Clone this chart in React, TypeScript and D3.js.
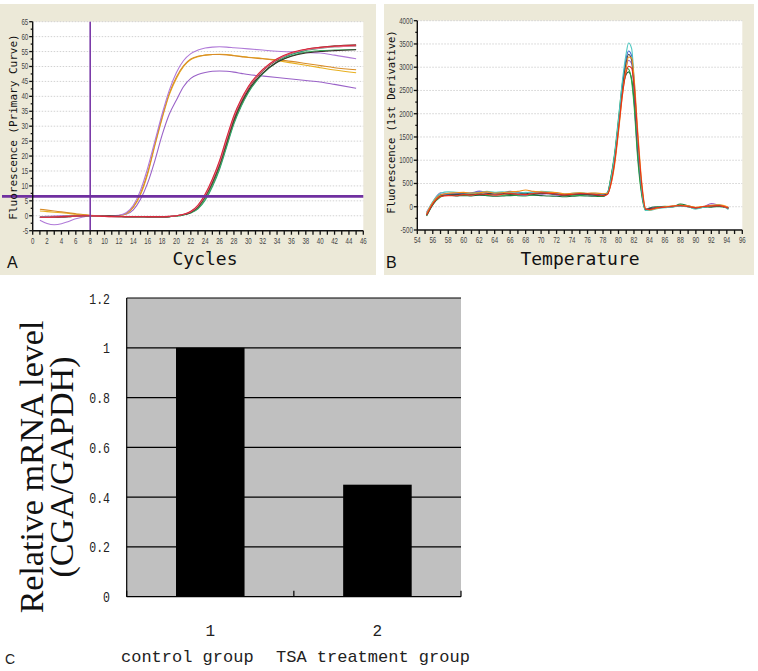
import React from "react";
import * as d3 from "d3";

// ---------- Panel A: amplification curves ----------
const cycles = [1,2,3,4,5,6,7,8,10,12,13,14,15,16,17,18,19,20,21,22,23,24,25,26,27,28,29,30,32,34,36,38,40,42,45];
const ampPurpleHigh = [-1.5,-2.6,-3.0,-2.7,-1.9,-1.0,-0.4,0,0,0.2,1.0,3.5,8.5,16,25,34,42,48,52,54.3,55.5,56.2,56.5,56.6,56.5,56.3,56.1,55.9,55.5,55.1,54.9,54.7,54.5,53.8,52.6];
const ampOrangeA = [2.2,1.9,1.6,1.3,1.0,0.7,0.4,0.2,0,0.1,0.8,3,7.5,14.5,24,33,41,46.5,50.3,52.5,53.4,53.8,54,54,53.9,53.6,53.3,53,52.6,52.2,51.7,51,50.3,49.6,48.9];
const ampOrangeB = [1.6,1.4,1.2,1.0,0.8,0.5,0.3,0.1,0,0.1,0.7,2.8,7,14,23.5,32.5,40.5,46,50,52.3,53.3,53.8,54,54.1,54,53.7,53.4,53.1,52.7,52,51.2,50.4,49.6,48.8,47.9];
const ampPurpleLow = [-0.3,-0.2,-0.1,0,0,0,0,0,0,0.1,0.5,2,5.5,11,18.5,27,34,38.8,43.3,46,47.3,48,48.4,48.5,48.4,48.1,47.7,47.3,46.8,46.3,45.8,45.3,44.8,44,42.7];
const ampRed = [-0.5,-0.5,-0.4,-0.3,-0.2,-0.1,0,0,-0.2,-0.3,-0.3,-0.3,-0.3,-0.3,-0.3,-0.3,-0.2,0,0.5,1.5,3.6,7.3,12.3,18.5,26.3,33.6,39,43.3,49,52.6,54.7,55.8,56.4,56.8,57.1];
const ampPink = [-0.5,-0.5,-0.4,-0.3,-0.2,-0.1,0,0,-0.2,-0.3,-0.3,-0.3,-0.3,-0.3,-0.3,-0.3,-0.2,0,0.5,1.4,3.4,7,12,18,25.8,33.2,38.7,43,48.8,52.4,54.5,55.6,56.2,56.6,56.9];
const ampBrown = [-0.6,-0.6,-0.5,-0.4,-0.3,-0.1,0,0,-0.1,-0.2,-0.3,-0.3,-0.3,-0.4,-0.4,-0.4,-0.3,0,0.4,1.2,3.0,6.5,11.3,17.3,25,32.5,38.2,42.6,48.5,52.2,54.4,55.7,56.4,56.9,57.3];
const ampBlack = [-0.6,-0.6,-0.5,-0.4,-0.3,-0.1,0,0,-0.1,-0.2,-0.3,-0.3,-0.3,-0.4,-0.4,-0.4,-0.3,0,0.4,1.2,3.0,6.4,11,17,24.6,32,37.6,42,47.8,51.4,53.4,54.5,55,55.3,55.6];
const ampGreen = [-0.5,-0.5,-0.4,-0.3,-0.2,-0.1,0,0,-0.2,-0.3,-0.4,-0.4,-0.4,-0.4,-0.4,-0.4,-0.3,-0.1,0.3,1.0,2.5,5.6,10.2,16.2,23.8,31.3,37,41.5,47.6,51.4,53.6,54.8,55.3,55.5,55.7];
const ampTeal = [-0.5,-0.5,-0.4,-0.3,-0.2,-0.1,0,0,-0.2,-0.3,-0.4,-0.4,-0.4,-0.4,-0.4,-0.4,-0.3,-0.1,0.3,0.9,2.3,5.2,9.7,15.6,23.2,30.8,36.6,41.2,47.5,51.6,54,55.4,56.1,56.6,56.9];
const thresholdA = 6.5;
const markerCycle = 8;

// ---------- Panel B: melt curves ----------
const tempsB = [55.2,56,57,58,59,60,61,62,63,64,65,66,67,68,69,70,71,72,73,74,75,76,77,78,78.6,79,79.5,80,80.5,81,81.3,81.7,82,82.5,83,83.5,84,85,86,87,88,89,90,91,92,93,94.2];
const meltRed = [-180,60,220,240,235,260,250,275,265,250,270,285,270,260,285,300,290,275,255,265,285,280,265,235, 270,480,950,1650,2400,2900,3020,2980,2650,1500,480,-50, -60,-20,-10,10,25,5,-25,5,15,25,-30];
const meltOrange = [-150,90,250,290,300,310,295,300,320,290,300,320,330,360,330,320,310,305,280,290,300,290,295,280, 290,460,900,1600,2380,3000,3220,3200,2800,1600,540,-40, -70,-30,0,20,30,20,-10,10,30,40,-10];
const meltGreen = [-200,40,210,260,270,250,265,290,250,270,250,260,240,230,260,280,300,260,240,250,245,255,240,230, 310,620,1150,1900,2650,2980,2960,2700,2200,1000,250,-80, -50,-10,10,-5,40,0,-40,-10,10,0,-20];
const meltDarkGreen = [-170,70,240,250,230,240,230,250,240,225,230,240,245,255,250,240,230,225,215,225,235,230,225,220, 300,600,1100,1800,2500,2850,2900,2750,2300,1100,300,-70, -30,0,-10,0,60,20,-20,0,-10,10,-40];
const meltTeal = [-140,110,290,320,310,300,290,300,330,310,320,305,290,310,300,330,320,300,270,290,300,285,290,280, 300,560,1100,1850,2700,3300,3520,3400,2800,1400,380,-80, -80,-40,-20,0,10,0,-50,-10,20,40,-60];
const meltBlue = [-160,80,260,270,280,290,300,320,290,280,300,330,310,300,320,320,300,290,270,275,280,275,270,260, 290,540,1050,1800,2600,3200,3350,3250,2700,1350,400,-60, -50,-30,-10,15,20,10,-30,0,30,20,-20];
const meltPurple = [-120,100,300,280,290,270,280,340,300,270,280,300,260,250,290,270,280,250,260,270,265,260,255,250, 280,500,1000,1700,2500,3000,3150,3080,2600,1300,420,-50, -40,-20,0,0,20,10,-20,0,70,30,-10];
const meltBlack = [-190,50,230,250,260,280,270,260,280,300,290,270,280,290,270,290,280,270,250,260,270,265,250,245, 285,520,1000,1720,2520,3100,3280,3150,2600,1250,360,-60, -40,-20,0,5,20,0,-30,-5,10,15,-30];

// ---------- Panel C: bar chart ----------
const groupNumbers = ["1", "2"];
const groupNames = ["control group", "TSA treatment group"];
const relativeLevels = [1.0, 0.45];

const ampSeries = [
  { v: ampPurpleLow, c: "#9a62c8" },
  { v: ampOrangeB, c: "#e8b020" },
  { v: ampOrangeA, c: "#d88c28" },
  { v: ampPurpleHigh, c: "#b07ad8" },
  { v: ampTeal, c: "#2a9a70" },
  { v: ampGreen, c: "#3cb060" },
  { v: ampBlack, c: "#3a3028" },
  { v: ampBrown, c: "#7a3a30" },
  { v: ampPink, c: "#f07a98" },
  { v: ampRed, c: "#d8283c" },
];

const meltSeries = [
  { v: meltDarkGreen, c: "#1a6b3a" },
  { v: meltGreen, c: "#28a745" },
  { v: meltPurple, c: "#a060c0" },
  { v: meltBlue, c: "#4068d0" },
  { v: meltBlack, c: "#444444" },
  { v: meltTeal, c: "#50c8c0" },
  { v: meltOrange, c: "#f39019" },
  { v: meltRed, c: "#e8301c" },
];

const BEIGE = "#ece9d8";
const tickFont = "'Liberation Sans', Arial, sans-serif";
const monoFont = "'DejaVu Sans Mono', 'Liberation Mono', monospace";

function PanelA() {
  const x = d3.scaleLinear().domain([0, 46]).range([32.7, 363.3]);
  const y = d3.scaleLinear().domain([-5, 65]).range([230.7, 21.7]);
  const line = d3.line<number>().x((_, i) => x(cycles[i])).y((d) => y(d)).curve(d3.curveMonotoneX);
  const yMajor = d3.range(-5, 66, 5);
  const yMinor = d3.range(-2.5, 65, 5);
  const xTicks = d3.range(0, 47, 1);
  const xLabels = d3.range(0, 47, 2);
  return (
    <g>
      <rect x={0} y={4} width={376} height={271} fill={BEIGE} />
      <rect x={x(0)} y={y(65)} width={x(46) - x(0)} height={y(-5) - y(65)} fill="#ffffff" />
      {yMajor.filter((v) => v > -5).map((v) => (
        <line key={"g" + v} x1={x(0)} x2={x(46)} y1={y(v)} y2={y(v)} stroke="#d2d2d2" strokeDasharray="1.5 1.5" />
      ))}
      {ampSeries.map((s, i) => (
        <path key={i} d={line(s.v) || ""} fill="none" stroke={s.c} strokeWidth={1.1} />
      ))}
      <line x1={x(markerCycle)} x2={x(markerCycle)} y1={y(65)} y2={y(-5)} stroke="#7a3aa8" strokeWidth={1.6} />
      <line x1={2} x2={x(46)} y1={y(thresholdA)} y2={y(thresholdA)} stroke="#7030a0" strokeWidth={2.6} />
      <line x1={x(0)} x2={x(0)} y1={y(65)} y2={y(-5)} stroke="#111" strokeWidth={1.4} />
      <line x1={x(0)} x2={x(46)} y1={y(-5)} y2={y(-5)} stroke="#111" strokeWidth={1.4} />
      {yMajor.map((v) => (
        <g key={"y" + v}>
          <line x1={x(0) - 3.5} x2={x(0)} y1={y(v)} y2={y(v)} stroke="#111" strokeWidth={1.3} />
          <text transform={`translate(${x(0) - 4.5},${y(v) + 3}) scale(0.72,1)`} fontSize={8.5} fontFamily={tickFont} fill="#444" textAnchor="end">{v}</text>
        </g>
      ))}
      {yMinor.map((v) => (
        <line key={"ym" + v} x1={x(0) - 2} x2={x(0)} y1={y(v)} y2={y(v)} stroke="#111" strokeWidth={1.3} />
      ))}
      {xTicks.map((v) => (
        <line key={"x" + v} x1={x(v)} x2={x(v)} y1={y(-5)} y2={y(-5) + 4} stroke="#111" strokeWidth={1.3} />
      ))}
      {xLabels.map((v) => (
        <text key={"xl" + v} transform={`translate(${x(v)},${y(-5) + 13}) scale(0.72,1)`} fontSize={8.5} fontFamily={tickFont} fill="#444" textAnchor="middle">{v}</text>
      ))}
      <text transform={`translate(17,127) rotate(-90)`} fontSize={11} fontFamily={monoFont} fill="#111" textAnchor="middle">Fluorescence (Primary Curve)</text>
      <text x={205} y={265} fontSize={18} fontFamily={monoFont} fill="#111" textAnchor="middle">Cycles</text>
      <text x={7} y={268} fontSize={16} fontFamily={tickFont} fill="#111">A</text>
    </g>
  );
}

function PanelB() {
  const x = d3.scaleLinear().domain([54, 96]).range([417.3, 742.3]);
  const y = d3.scaleLinear().domain([-500, 4000]).range([230, 20.7]);
  const line = d3.line<number>().x((_, i) => x(tempsB[i])).y((d) => y(d)).curve(d3.curveMonotoneX);
  const yMajor = d3.range(-500, 4001, 500);
  const yMinor = d3.range(-250, 4000, 500);
  const xTicks = d3.range(54, 97, 1);
  const xLabels = d3.range(54, 97, 2);
  return (
    <g>
      <rect x={384} y={4} width={370} height={271} fill={BEIGE} />
      <rect x={x(54)} y={y(4000)} width={x(96) - x(54)} height={y(-500) - y(4000)} fill="#ffffff" />
      {yMajor.filter((v) => v > -500).map((v) => (
        <line key={"g" + v} x1={x(54)} x2={x(96)} y1={y(v)} y2={y(v)} stroke="#d2d2d2" strokeDasharray="1.5 1.5" />
      ))}
      {meltSeries.map((s, i) => (
        <path key={i} d={line(s.v) || ""} fill="none" stroke={s.c} strokeWidth={1.1} />
      ))}
      <line x1={x(54)} x2={x(54)} y1={y(4000)} y2={y(-500)} stroke="#111" strokeWidth={1.4} />
      <line x1={x(54)} x2={x(96)} y1={y(-500)} y2={y(-500)} stroke="#111" strokeWidth={1.4} />
      {yMajor.map((v) => (
        <g key={"y" + v}>
          <line x1={x(54) - 3.5} x2={x(54)} y1={y(v)} y2={y(v)} stroke="#111" strokeWidth={1.3} />
          <text transform={`translate(${x(54) - 4.5},${y(v) + 3}) scale(0.72,1)`} fontSize={8.5} fontFamily={tickFont} fill="#444" textAnchor="end">{v}</text>
        </g>
      ))}
      {yMinor.map((v) => (
        <line key={"ym" + v} x1={x(54) - 2} x2={x(54)} y1={y(v)} y2={y(v)} stroke="#111" strokeWidth={1.3} />
      ))}
      {xTicks.map((v) => (
        <line key={"x" + v} x1={x(v)} x2={x(v)} y1={y(-500)} y2={y(-500) + 4} stroke="#111" strokeWidth={1.3} />
      ))}
      {xLabels.map((v) => (
        <text key={"xl" + v} transform={`translate(${x(v)},${y(-500) + 13}) scale(0.72,1)`} fontSize={8.5} fontFamily={tickFont} fill="#444" textAnchor="middle">{v}</text>
      ))}
      <text transform={`translate(395,122) rotate(-90)`} fontSize={10.5} fontFamily={monoFont} fill="#111" textAnchor="middle">Fluorescence (1st Derivative)</text>
      <text x={580} y={265} fontSize={18} fontFamily={monoFont} fill="#111" textAnchor="middle">Temperature</text>
      <text x={386} y={268} fontSize={16} fontFamily={tickFont} fill="#111">B</text>
    </g>
  );
}

function PanelC() {
  const x = d3.scaleBand<string>().domain(groupNumbers).range([126.7, 461]).paddingInner(0.59).paddingOuter(0.295);
  const y = d3.scaleLinear().domain([0, 1.2]).range([596.7, 298]);
  const ticks = y.ticks(6);
  const fmt = d3.format("~g");
  const outer = d3.scaleBand<string>().domain(groupNumbers).range([126.7, 461]);
  return (
    <g>
      <rect x={126.7} y={y(1.2)} width={461 - 126.7} height={y(0) - y(1.2)} fill="#c0c0c0" />
      {ticks.filter((t) => t > 0).map((t) => (
        <line key={"g" + t} x1={126.7} x2={461} y1={y(t)} y2={y(t)} stroke="#000" strokeWidth={1.2} />
      ))}
      {relativeLevels.map((v, i) => (
        <rect key={i} x={x(groupNumbers[i])!} y={y(v)} width={x.bandwidth()} height={y(0) - y(v)} fill="#000" />
      ))}
      <line x1={126.7} x2={126.7} y1={y(1.2)} y2={y(0)} stroke="#000" strokeWidth={1.2} />
      <line x1={126.7} x2={461} y1={y(0)} y2={y(0)} stroke="#000" strokeWidth={1.2} />
      {[126.7, outer("2")!, 461].map((px, i) => (
        <line key={"t" + i} x1={px} x2={px} y1={y(0)} y2={y(0) - 6} stroke="#000" strokeWidth={1.2} />
      ))}
      {ticks.map((t) => (
        <text key={"yl" + t} transform={`translate(110,${y(t) + 5.5}) scale(1,1.35)`} fontSize={11.5} fontFamily="'Liberation Mono', monospace" fill="#222" textAnchor="end">{fmt(t)}</text>
      ))}
      {groupNumbers.map((g) => (
        <text key={"n" + g} x={x(g)! + x.bandwidth() / 2} y={636} fontSize={16} fontFamily="'Liberation Mono', monospace" fill="#222" textAnchor="middle">{g}</text>
      ))}
      <text x={121} y={662} fontSize={17} fontFamily="'Liberation Mono', monospace" fill="#222">{groupNames[0]}</text>
      <text x={276} y={662} fontSize={17} fontFamily="'Liberation Mono', monospace" fill="#222">{groupNames[1]}</text>
      <text transform={`translate(43,467) rotate(-90)`} fontSize={34} fontFamily="'Liberation Serif', 'Times New Roman', serif" fill="#111" textAnchor="middle">Relative mRNA level</text>
      <text transform={`translate(73,467) rotate(-90)`} fontSize={34} fontFamily="'Liberation Serif', 'Times New Roman', serif" fill="#111" textAnchor="middle">(CGA/GAPDH)</text>
      <text x={5} y={664} fontSize={14} fontFamily={tickFont} fill="#222">C</text>
    </g>
  );
}

export default function App() {
  return (
    <svg width={758} height={671} viewBox="0 0 758 671" style={{ position: "absolute", left: 0, top: 0, background: "#fff" }}>
      <rect x={0} y={0} width={758} height={671} fill="#fff" />
      <PanelA />
      <PanelB />
      <PanelC />
    </svg>
  );
}
